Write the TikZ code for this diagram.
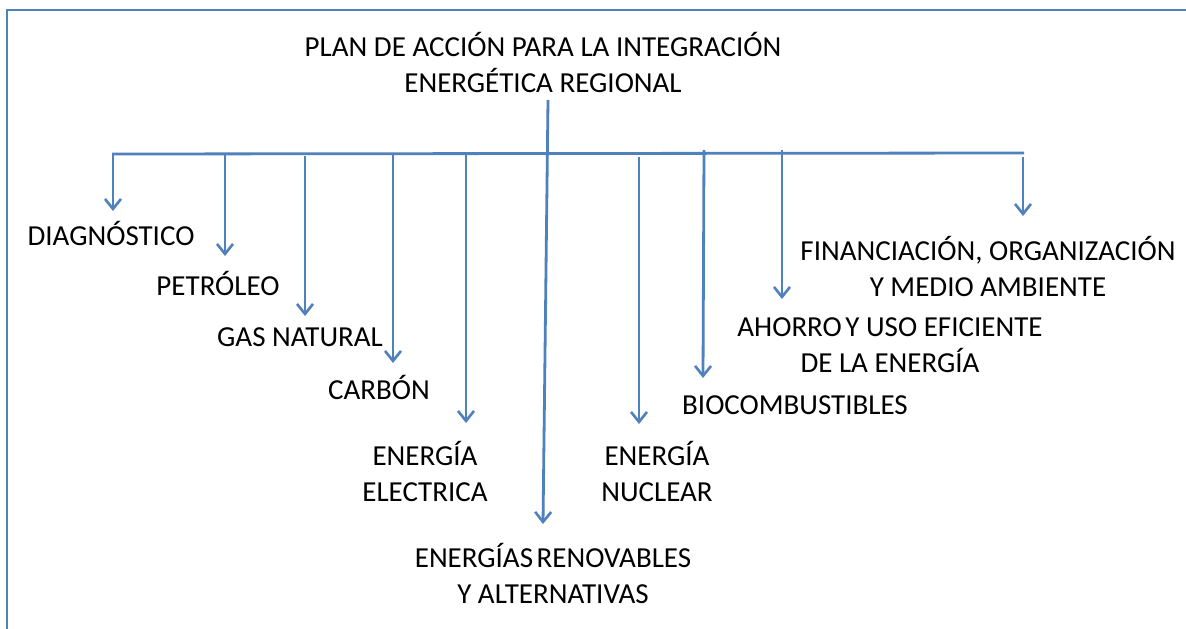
\documentclass[tikz,border=0pt]{standalone}
\usepackage{fontspec}
\setmainfont{Carlito}
\usetikzlibrary{arrows.meta}
\definecolor{lineblue}{HTML}{4F81BD}
\begin{document}
\begin{tikzpicture}[x=1pt,y=-1pt,
  conn/.style={draw=lineblue,line width=2.8pt},
  arr/.style={conn,-{Straight Barb[length=10pt,width=16pt,line width=2.6pt]}},
  lbl/.style={inner sep=0pt,align=center,font=\fontsize{29}{36}\selectfont}]
\useasboundingbox (0,0) rectangle (1186,629);
\fill[white] (0,0) rectangle (1186,629);
% frame
\draw[draw=lineblue,line width=2.6pt] (7,640) -- (7,10) -- (1200,10);
% title
\node[lbl] (title) at (543,62) {PLAN DE ACCIÓN PARA LA INTEGRACIÓN\\ENERGÉTICA REGIONAL};
% labels
\node[lbl] (diag) at (111,233) {DIAGNÓSTICO};
\node[lbl] (petr) at (218,283) {PETRÓLEO};
\node[lbl] (gas) at (300,337) {GAS NATURAL};
\node[lbl] (carb) at (379,387) {CARBÓN};
\node[lbl] (elec) at (425,471) {ENERGÍA\\ELECTRICA};
\node[lbl] (renov) at (553,573) {ENERGÍAS\hspace{-3pt} RENOVABLES\\Y ALTERNATIVAS};
\node[lbl] (nucl) at (657,471) {ENERGÍA\\NUCLEAR};
\node[lbl] (bio) at (795,405) {BIOCOMBUSTIBLES};
\node[lbl] (ahor) at (890,345) {AHORRO\hspace{-3pt} Y USO EFICIENTE\\DE LA ENERGÍA};
\node[lbl] (fin) at (988,266) {FINANCIACIÓN, ORGANIZACIÓN\\Y MEDIO AMBIENTE};
% coordinates
\coordinate (stemtop) at (548,100);
\coordinate (busL) at (112,154);
\coordinate (busR) at (1024,153);
\coordinate (s1) at (113,154); \coordinate (t1) at (113,211);
\coordinate (s2) at (225,154); \coordinate (t2) at (225,256);
\coordinate (s3) at (305,156); \coordinate (t3) at (305,316);
\coordinate (s4) at (393,154); \coordinate (t4) at (393,363);
\coordinate (s5) at (466,154); \coordinate (t5) at (466,423);
\coordinate (t6) at (543,524);
\coordinate (s7) at (639,157); \coordinate (t7) at (639,424);
\coordinate (s8) at (704,150); \coordinate (t8) at (703,378);
\coordinate (s9) at (782,150); \coordinate (t9) at (782,299);
\coordinate (s10) at (1023,157); \coordinate (t10) at (1023,216);
% bus
\draw[conn] (busL) -- (busR);
% arrows
\draw[arr] (s1) -- (t1);
\draw[arr] (s2) -- (t2);
\draw[arr] (s3) -- (t3);
\draw[arr] (s4) -- (t4);
\draw[arr] (s5) -- (t5);
\draw[arr] (stemtop) -- (t6);
\draw[arr] (s7) -- (t7);
\draw[arr] (s8) -- (t8);
\draw[arr] (s9) -- (t9);
\draw[arr] (s10) -- (t10);
\end{tikzpicture}
\end{document}
